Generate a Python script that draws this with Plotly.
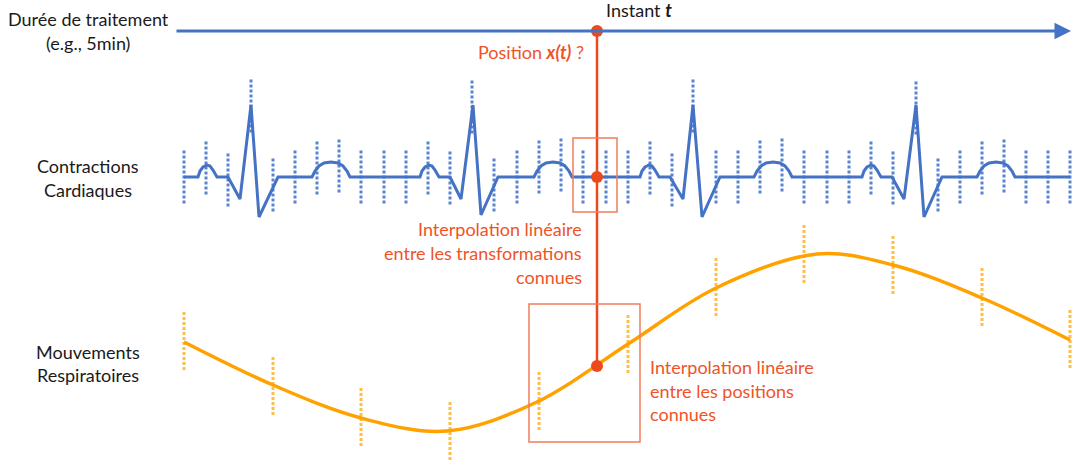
import plotly.graph_objects as go

# ---- data (diagram coordinates in pixel units, y downward) ----
ecg_x = [184, 198, 200, 203, 207, 210, 213, 217, 228, 240, 251, 259, 278, 312, 315, 319, 324, 331, 338, 343, 347, 350,
         420, 422, 425, 429, 432, 435, 439, 450, 461, 473, 481, 498, 534, 537, 541, 546, 553, 560, 565, 569, 572,
         640, 642, 645, 649, 652, 655, 659, 670, 683, 693, 702, 720, 754, 757, 761, 766, 773, 780, 785, 789, 792,
         862, 864, 867, 871, 874, 877, 881, 892, 904, 916, 924, 942, 977, 980, 984, 989, 996, 1003, 1008, 1012, 1015, 1070]
ecg_y = [177, 177, 171, 167, 165, 166, 170, 177, 177, 199, 105, 217, 177, 177, 171, 166, 163, 162, 163, 166, 171, 177,
         177, 171, 167, 165, 166, 170, 177, 177, 199, 105, 215, 177, 177, 171, 166, 163, 162, 163, 166, 171, 177,
         177, 171, 167, 165, 166, 170, 177, 177, 199, 105, 217, 177, 177, 171, 166, 163, 162, 163, 166, 171, 177,
         177, 171, 167, 165, 166, 170, 177, 177, 199, 105, 217, 177, 177, 171, 166, 163, 162, 163, 166, 171, 177, 177]

ecg_samples_x = [184, 206, 228, 251, 273, 295, 317, 339, 361, 384, 406, 428, 450, 472, 494, 517, 539, 561, 583, 606, 628,
                 650, 672, 693, 716, 738, 760, 782, 804, 827, 849, 871, 893, 916, 938, 960, 982, 1004, 1026, 1048, 1070]
ecg_samples_y = [177, 168, 180, 106, 185, 177, 168, 166, 177, 177, 177, 168, 178, 107, 185, 177, 167, 165, 177, 177, 177,
                 168, 180, 106, 177, 177, 167, 165, 177, 177, 177, 168, 178, 108, 185, 177, 168, 166, 177, 177, 177]
ecg_half = 26.5

resp_x = [184, 273, 361, 447, 539, 628, 716, 817, 893, 982, 1070]
resp_y = [342, 385, 418, 431, 401, 344, 288, 254, 265, 298, 340]

resp_samples_x = [184, 273, 361, 450, 539, 628, 716, 804, 893, 982, 1070]
resp_samples_y = [342, 387, 418, 432, 402, 345, 288, 255, 266, 298, 340]
resp_half = 30

t_x = 597
t_points_y = [31, 177, 366]
time_axis = (175, 1071, 31)

box_ecg = (573, 138, 617, 212)
box_resp = (529, 304, 640, 442)

BLUE = "#4472C4"
BLUE_DOT = "#5B84D0"
ORANGE = "#FFA200"
ORANGE_DOT = "#FFBE45"
RED = "#EC4A1D"
RED_BOX = "#F07D5E"
RED_TXT = "#F05326"
FONT = "Lato"
FS = 18

fig = go.Figure()

# sample markers (dotted)
def seg_lists(xs, ys, half):
    sx, sy = [], []
    for x, y in zip(xs, ys):
        sx += [x, x, None]
        sy += [y - half, y + half, None]
    return sx, sy

sx, sy = seg_lists(ecg_samples_x, ecg_samples_y, ecg_half)
fig.add_trace(go.Scatter(x=sx, y=sy, mode="lines", line=dict(color=BLUE_DOT, width=3, dash="3px,2px"), hoverinfo="skip"))
sx, sy = seg_lists(resp_samples_x, resp_samples_y, resp_half)
fig.add_trace(go.Scatter(x=sx, y=sy, mode="lines", line=dict(color=ORANGE_DOT, width=3, dash="3px,2px"), hoverinfo="skip"))

# ECG
fig.add_trace(go.Scatter(x=ecg_x, y=ecg_y, mode="lines", line=dict(color=BLUE, width=3, simplify=False), hoverinfo="skip"))
# Respiration
fig.add_trace(go.Scatter(x=resp_x, y=resp_y, mode="lines", line=dict(color=ORANGE, width=3.5, shape="spline", smoothing=1.0), hoverinfo="skip"))

# boxes
for (x0, y0, x1, y1) in (box_ecg, box_resp):
    fig.add_shape(type="rect", x0=x0, y0=y0, x1=x1, y1=y1, xref="x", yref="y",
                  line=dict(color=RED_BOX, width=1.5), fillcolor="rgba(0,0,0,0)")

# time axis arrow
fig.add_annotation(x=time_axis[1], y=time_axis[2], ax=time_axis[0], ay=time_axis[2], xref="x", yref="y",
                   axref="x", ayref="y", showarrow=True, arrowhead=2, arrowsize=1.1, arrowwidth=3,
                   arrowcolor=BLUE, text="")

# instant t line and dots
fig.add_trace(go.Scatter(x=[t_x, t_x], y=[t_points_y[0], t_points_y[-1]], mode="lines",
                         line=dict(color=RED, width=2.5), hoverinfo="skip"))
fig.add_trace(go.Scatter(x=[t_x] * len(t_points_y), y=t_points_y, mode="markers",
                         marker=dict(color=RED, size=12), hoverinfo="skip"))

# texts
def txt(x, y, s, color="#1a1a1a", xanchor="center", align="center"):
    fig.add_annotation(x=x, y=y, text=s, showarrow=False, xref="x", yref="y", xanchor=xanchor, yanchor="middle",
                       align=align, font=dict(family=FONT, size=FS, color=color))

txt(88, 19, "Durée de traitement")
txt(88, 43, "(e.g., 5min)")
txt(88, 166, "Contractions")
txt(88, 190, "Cardiaques")
txt(88, 352, "Mouvements")
txt(88, 375, "Respiratoires")
txt(604, 10, "Instant <b><i>t</i></b>", xanchor="left")
txt(586, 52, "Position <b><i>x(t)</i></b> ?", color=RED_TXT, xanchor="right")
txt(584, 229, "Interpolation linéaire", color=RED_TXT, xanchor="right")
txt(584, 253, "entre les transformations", color=RED_TXT, xanchor="right")
txt(584, 277, "connues", color=RED_TXT, xanchor="right")
txt(648, 367, "Interpolation linéaire", color=RED_TXT, xanchor="left")
txt(648, 391, "entre les positions", color=RED_TXT, xanchor="left")
txt(648, 414, "connues", color=RED_TXT, xanchor="left")

fig.update_layout(width=1076, height=469, margin=dict(l=0, r=0, t=0, b=0),
                  paper_bgcolor="white", plot_bgcolor="white", showlegend=False,
                  xaxis=dict(range=[0, 1076], visible=False, fixedrange=True),
                  yaxis=dict(range=[469, 0], visible=False, fixedrange=True))

fig.write_html("out.html", config={"displayModeBar": False},
               post_script="document.body.style.margin='0';document.body.style.overflow='hidden';")
